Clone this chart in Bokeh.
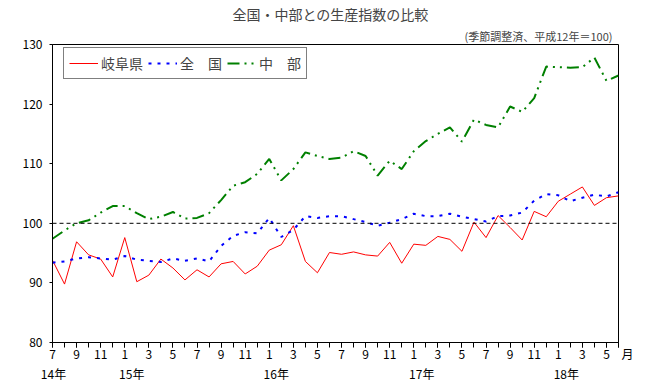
from bokeh.plotting import figure
from bokeh.models import (Range1d, FixedTicker, Span, Legend, LegendItem, Title, LinearAxis)
from bokeh.embed import file_html
from bokeh.resources import INLINE

# ---- data (monthly index, 2014/7 .. 2018/6) ----
months = list(range(48))
month_names = [str((6 + i) % 12 + 1) for i in months]
gifu = [93.8, 89.8, 96.9, 94.7, 94.0, 91.0, 97.6, 90.2, 91.3, 94.0, 92.5, 90.5,
        92.2, 91.0, 93.2, 93.6, 91.5, 92.8, 95.5, 96.4, 99.6, 93.6, 91.7, 95.1,
        94.8, 95.2, 94.7, 94.5, 96.8, 93.3, 96.5, 96.3, 97.8, 97.3, 95.3, 100.2,
        97.6, 101.3, 99.3, 97.2, 102.0, 101.1, 103.7, 104.9, 106.1, 103.0, 104.3, 104.6]
zenkoku = [93.4, 93.6, 94.1, 94.3, 94.1, 93.9, 94.5, 93.9, 93.7, 93.5, 94.1, 93.7,
           94.1, 93.6, 96.2, 97.9, 98.5, 98.3, 100.9, 97.7, 98.9, 101.2, 100.9, 101.2,
           101.2, 100.7, 100.2, 99.6, 100.1, 100.7, 101.6, 101.2, 101.2, 101.6, 101.1, 100.7,
           100.3, 101.2, 101.3, 101.8, 103.8, 104.9, 104.7, 103.7, 104.3, 104.8, 104.5, 105.2]
chubu = [97.4, 98.8, 100.0, 100.5, 101.8, 102.9, 102.9, 101.7, 100.7, 101.1, 101.9, 100.8,
         100.9, 101.7, 103.9, 106.3, 106.9, 108.3, 110.8, 107.2, 109.1, 111.9, 111.3, 110.8,
         111.0, 112.1, 111.3, 108.0, 110.5, 109.1, 112.1, 113.8, 115.0, 116.1, 113.7, 117.4,
         116.5, 116.1, 119.6, 118.7, 121.0, 126.3, 126.2, 126.1, 126.2, 127.8, 123.9, 124.8]
series_names = ["岐阜県", "全　国", "中　部"]
year_labels = ["14年", "15年", "16年", "17年", "18年"]
year_pos = [0, 6, 18, 30, 42]
y_min, y_max = 80, 130
y_ticks = [80, 90, 100, 110, 120, 130]
base_value = 100
title_text = "全国・中部との生産指数の比較"
subtitle_text = "(季節調整済、平成12年＝100)"
unit_text = "月"

FONT = "Noto Sans CJK JP"
W, H = 647, 384
L, R, T, B = 52, 29, 43, 41
px_per_month = (W - L - R) / (months[-1] - months[0])

p = figure(width=W, height=H, output_backend="svg", toolbar_location=None,
           x_range=Range1d(months[0], months[-1]), y_range=Range1d(y_min, y_max),
           min_border_left=L, min_border_right=R, min_border_top=T, min_border_bottom=B)
p.background_fill_color = "white"
p.border_fill_color = "white"
p.outline_line_color = "black"
p.outline_line_width = 1
p.grid.visible = False

# titles: main title outermost, subtitle nearest the frame
p.title.text = title_text
p.title.align = "left"
p.title.offset = 180
p.title.text_font = FONT
p.title.text_font_size = "14px"
p.title.text_font_style = "normal"
p.title.standoff = 3
p.add_layout(Title(text=subtitle_text, align="right", offset=6, text_font=FONT,
                   text_font_size="11px", text_font_style="normal", standoff=1), "above")

# x axis: month labels every 2 months, unit label at the last month (shifted right by spaces)
last = months[-1]
p.xaxis.ticker = FixedTicker(ticks=[i for i in months if i % 2 == 0] + [last],
                             minor_ticks=months)
overrides = {i: month_names[i] for i in months if i % 2 == 0}
overrides[last] = "\u3000\u2002" + unit_text
p.xaxis.major_label_overrides = overrides
p.xaxis.major_tick_in = 0
p.xaxis.major_tick_out = 5
p.xaxis.minor_tick_in = 0
p.xaxis.minor_tick_out = 5
p.xaxis.major_label_standoff = -3

p.yaxis.ticker = FixedTicker(ticks=y_ticks, minor_ticks=[])
p.yaxis.major_tick_in = 0
p.yaxis.major_tick_out = 3
p.yaxis.major_label_standoff = 7
for ax in (p.xaxis, p.yaxis):
    ax.axis_line_color = "black"
    ax.major_tick_line_color = "black"
    ax.minor_tick_line_color = "black"
    ax.major_label_text_font = FONT
    ax.major_label_text_font_size = "12px"
    ax.major_label_text_color = "black"

# year labels as a second, bare axis below
year_offsets_px = [1, 7, 7, 8, 8]
year_ticks = [pos + off / px_per_month for pos, off in zip(year_pos, year_offsets_px)]
yr_axis = LinearAxis(ticker=FixedTicker(ticks=year_ticks, minor_ticks=[]),
                     major_label_overrides={t: lab for t, lab in zip(year_ticks, year_labels)},
                     axis_line_color=None, major_tick_line_color=None, minor_tick_line_color=None,
                     major_tick_out=0, major_tick_in=0, major_label_standoff=0,
                     major_label_text_font=FONT, major_label_text_font_size="12px",
                     major_label_text_color="black")
p.add_layout(yr_axis, "below")

# base line at 100
p.add_layout(Span(location=base_value, dimension="width", line_color="black",
                  line_dash="4 3", line_width=1))

r1 = p.line(months, gifu, line_color="red", line_width=1)
r2 = p.line(months, zenkoku, line_color="blue", line_width=2, line_dash="3 6")
r3 = p.line(months, chubu, line_color="green", line_width=2, line_dash="12 5 2 5 2 5")

legend = Legend(items=[LegendItem(label=series_names[0], renderers=[r1]),
                       LegendItem(label=series_names[1], renderers=[r2]),
                       LegendItem(label=series_names[2], renderers=[r3])],
                orientation="horizontal", location=(11, 263))
legend.label_text_font = FONT
legend.label_text_font_size = "14px"
legend.glyph_width = 29
legend.glyph_height = 18
legend.label_height = 18
legend.label_standoff = 3
legend.spacing = 5
legend.padding = 5
legend.margin = 0
legend.border_line_color = "black"
legend.border_line_width = 1
legend.background_fill_color = "white"
legend.background_fill_alpha = 1
p.add_layout(legend)

open("out.html", "w").write(file_html(p, INLINE))
